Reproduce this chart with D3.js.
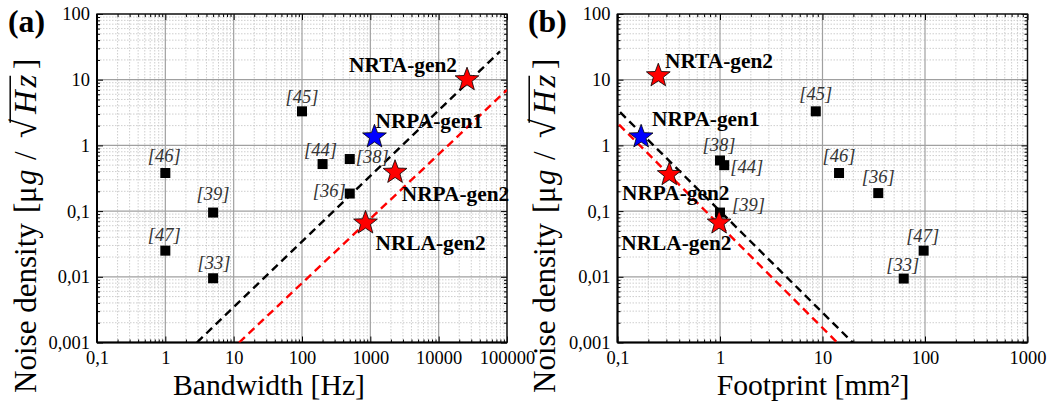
<!DOCTYPE html>
<html><head><meta charset="utf-8">
<script src="https://cdn.jsdelivr.net/npm/d3@7"></script>
<style>body{margin:0;background:#fff}</style>
</head><body><svg id="c" width="1051" height="412"></svg>
<script>
// ---------- DATA ----------
const refsA = ["[46]","[39]","[47]","[33]","[45]","[44]","[38]","[36]"];
const bandwidthA = [1, 5, 1, 5, 100, 200, 500, 500];
const noiseA = [0.38, 0.095, 0.025, 0.0095, 3.3, 0.52, 0.62, 0.185];

const starNames = ["NRTA-gen2","NRPA-gen1","NRPA-gen2","NRLA-gen2"];
const starKinds = ["red","blue","red","red"];
const starBandwidth = [26000, 1150, 2300, 850];
const starNoiseA = [10, 1.35, 0.39, 0.066];

const refsB = ["[38]","[44]","[39]","[45]","[46]","[36]","[47]","[33]"];
const footprintB = [1.0, 1.1, 1.0, 8.6, 14.5, 35, 97, 62];
const noiseB = [0.59, 0.50, 0.095, 3.3, 0.38, 0.188, 0.025, 0.0094];

const starFootprint = [0.25, 0.17, 0.32, 0.98];
const starNoiseB = [11.5, 1.35, 0.36, 0.066];

// trend lines (endpoints in data units)
const trendA_black_x = [2.9, 79000], trendA_black_y = [0.001, 27];
const trendA_red_x = [12, 100000], trendA_red_y = [0.001, 7.0];
const trendB_black_x = [0.106, 19.7], trendB_black_y = [3.2, 0.001];
const trendB_red_x = [0.1035, 13.9], trendB_red_y = [2.07, 0.001];

const xTicksA = [0.1, 1, 10, 100, 1000, 10000, 100000];
const xTickLabelsA = ["0,1","1","10","100","1000","10000","100000"];
const xTicksB = [0.1, 1, 10, 100, 1000];
const xTickLabelsB = ["0,1","1","10","100","1000"];
const yTicks = [0.001, 0.01, 0.1, 1, 10, 100];
const yTickLabels = ["0,001","0,01","0,1","1","10","100"];

// ---------- LAYOUT (label offsets relative to marker) ----------
const refOffA = [[-1,-11.5,"middle"],[0,-13,"middle"],[-1,-9.5,"middle"],[1,-9,"middle"],[0,-8.5,"middle"],[-2,-8,"middle"],[6,4,"start"],[-4,3.5,"end"]];
const starOffA = [[-10,-7.6,"end"],[1,-8.7,"start"],[6.7,28.3,"start"],[10,27.4,"start"]];
const refOffB = [[-1,-9,"middle"],[6,7.4,"start"],[12,-1.7,"start"],[0,-11.7,"middle"],[0,-11.3,"middle"],[0,-10,"middle"],[-1,-8.4,"middle"],[-1,-7.7,"middle"]];
const starOffB = [[6.7,-7.7,"start"],[11,-11.3,"start"],[-47.3,25,"start"],[12.4,26.6,"end"]];

const FONT = "Liberation Serif";
const svg = d3.select("#c");
svg.append("rect").attr("width",1051).attr("height",412).attr("fill","#fff");

function measure(str, size, style, weight) {
  const t = svg.append("text").attr("font-family",FONT).attr("font-size",size)
    .attr("font-style",style||"normal").attr("font-weight",weight||"normal").text(str);
  const w = t.node().getComputedTextLength();
  t.remove();
  return w;
}
// font-size so that `str` is `target` px wide
const fitSize = (str, target, style, weight) => 100 * target / measure(str, 100, style, weight);
const FS_TICK = fitSize("0,001", 41.5);
const FS_REF = fitSize("[45]", 33, "italic");
const FS_STAR = fitSize("NRTA-gen2", 108, "normal", "bold");
const FS_LETTER = fitSize("(a)", 37, "normal", "bold");
const FS_XT = fitSize("Bandwidth [Hz]", 192);
const FS_YT = fitSize("Noise density", 170);

const yRange = [342.5, 14];
const starColor = {red:"#ff0000", blue:"#0000ff"};

function starPath(R, r) {
  const pts = [];
  for (let i = 0; i < 10; i++) {
    const a = -Math.PI/2 + i*Math.PI/5;
    const rr = i % 2 ? r : R;
    pts.push([rr*Math.cos(a), rr*Math.sin(a)]);
  }
  return "M" + pts.map(p => p.join(",")).join("L") + "Z";
}

function minorsOf(dom) {
  const out = [];
  const lo = Math.round(Math.log10(dom[0])), hi = Math.round(Math.log10(dom[1]));
  for (let e = lo; e < hi; e++) for (let k = 2; k <= 9; k++) out.push(k*Math.pow(10,e));
  return out;
}

// y-title pieces: [text, offset along axis from bottom, italic, size factor, letter spacing]
const yTitlePieces = [
  ["Noise density", 0, false, 1, 0],
  ["[", 180, false, 1, 0],
  ["μ", 190, false, 1, 0],
  ["g", 208, true, 1, 0],
  ["/", 233, false, 1, 0],
  ["√", 255, false, 1.12, 0],
  ["Hz", 279, true, 1.05, 3],
  ["]", 324, false, 1, 0]
];

function panel(opt) {
  const x = d3.scaleLog().domain(opt.xDomain).range(opt.xRange);
  const y = d3.scaleLog().domain([0.001, 100]).range(yRange);
  const g = svg.append("g");
  const [x0, x1] = opt.xRange, [y0, y1] = yRange;
  const xMin = minorsOf(opt.xDomain), yMin = minorsOf([0.001,100]);

  // grid
  const grid = g.append("g");
  grid.selectAll(".mx").data(xMin).join("line")
    .attr("x1", d=>x(d)).attr("x2", d=>x(d)).attr("y1", y0).attr("y2", y1)
    .attr("stroke","#c8c8c8").attr("stroke-width",0.9).attr("stroke-dasharray","1.5,1.5");
  grid.selectAll(".my").data(yMin).join("line")
    .attr("y1", d=>y(d)).attr("y2", d=>y(d)).attr("x1", x0).attr("x2", x1)
    .attr("stroke","#c8c8c8").attr("stroke-width",0.9).attr("stroke-dasharray","1.5,1.5");
  grid.selectAll(".Mx").data(opt.xTicks).join("line")
    .attr("x1", d=>x(d)).attr("x2", d=>x(d)).attr("y1", y0).attr("y2", y1)
    .attr("stroke","#a0a0a0").attr("stroke-width",1.2);
  grid.selectAll(".My").data(yTicks).join("line")
    .attr("y1", d=>y(d)).attr("y2", d=>y(d)).attr("x1", x0).attr("x2", x1)
    .attr("stroke","#a0a0a0").attr("stroke-width",1.2);

  // axes
  const styleAxis = sel => {
    sel.attr("font-family",FONT).attr("font-size",FS_TICK);
    sel.select(".domain").remove();
    sel.selectAll("line").attr("stroke","#000").attr("stroke-width",1);
    sel.selectAll("text").attr("font-family",FONT).attr("font-size",FS_TICK).attr("fill","#000");
  };
  g.append("g").attr("transform",`translate(0,${y0})`)
    .call(d3.axisBottom(x).tickValues(opt.xTicks).tickSize(-6).tickPadding(8)
      .tickFormat((d,i)=>opt.xLabels[i])).call(styleAxis);
  g.append("g").attr("transform",`translate(0,${y0})`)
    .call(d3.axisBottom(x).tickValues(xMin).tickSize(-3).tickFormat("")).call(styleAxis);
  g.append("g").attr("transform",`translate(0,${y1})`)
    .call(d3.axisTop(x).tickValues(opt.xTicks).tickSize(-6).tickFormat("")).call(styleAxis);
  g.append("g").attr("transform",`translate(0,${y1})`)
    .call(d3.axisTop(x).tickValues(xMin).tickSize(-3).tickFormat("")).call(styleAxis);
  g.append("g").attr("transform",`translate(${x0},0)`)
    .call(d3.axisLeft(y).tickValues(yTicks).tickSize(-6).tickPadding(7)
      .tickFormat((d,i)=>yTickLabels[i])).call(styleAxis);
  g.append("g").attr("transform",`translate(${x0},0)`)
    .call(d3.axisLeft(y).tickValues(yMin).tickSize(-3).tickFormat("")).call(styleAxis);
  g.append("g").attr("transform",`translate(${x1},0)`)
    .call(d3.axisRight(y).tickValues(yTicks).tickSize(-6).tickFormat("")).call(styleAxis);
  g.append("g").attr("transform",`translate(${x1},0)`)
    .call(d3.axisRight(y).tickValues(yMin).tickSize(-3).tickFormat("")).call(styleAxis);

  // frame
  g.append("rect").attr("x",x0).attr("y",y1).attr("width",x1-x0).attr("height",y0-y1)
    .attr("fill","none").attr("stroke","#111").attr("stroke-width",1.4);
  g.append("line").attr("x1",x0).attr("x2",x1).attr("y1",y0).attr("y2",y0).attr("stroke","#000").attr("stroke-width",2);
  g.append("line").attr("x1",x0).attr("x2",x0).attr("y1",y0).attr("y2",y1).attr("stroke","#000").attr("stroke-width",2);

  // trend lines
  const clip = "clip" + opt.id;
  svg.append("clipPath").attr("id",clip).append("rect")
    .attr("x",x0).attr("y",y1).attr("width",x1-x0).attr("height",y0-y1);
  const lineGen = d3.line().x(d=>x(d[0])).y(d=>y(d[1]));
  opt.trends.forEach(t => {
    g.append("path").attr("clip-path",`url(#${clip})`)
      .attr("d", lineGen(t.xs.map((v,i)=>[v,t.ys[i]])))
      .attr("fill","none").attr("stroke",t.color).attr("stroke-width",2.4)
      .attr("stroke-dasharray","8,5");
  });

  // reference squares
  const refs = opt.refs.map((r,i)=>({r, x:opt.refX[i], y:opt.refY[i], off:opt.refOff[i]}));
  g.selectAll(".sq").data(refs).join("rect")
    .attr("x", d=>x(d.x)-5).attr("y", d=>y(d.y)-5).attr("width",10).attr("height",10).attr("fill","#000");

  // stars
  const stars = starNames.map((n,i)=>({n, k:starKinds[i], x:opt.starX[i], y:opt.starY[i], off:opt.starOff[i]}));
  g.selectAll(".st").data(stars).join("path")
    .attr("d", starPath(12.5, 5.2))
    .attr("transform", d=>`translate(${x(d.x)},${y(d.y)})`)
    .attr("fill", d=>starColor[d.k]).attr("stroke","#000").attr("stroke-width",0.8);

  // labels
  g.selectAll(".rl").data(refs).join("text")
    .attr("x", d=>x(d.x)+d.off[0]).attr("y", d=>y(d.y)+d.off[1])
    .attr("text-anchor", d=>d.off[2])
    .attr("font-family",FONT).attr("font-size",FS_REF).attr("font-style","italic").attr("fill","#333")
    .text(d=>d.r);
  g.selectAll(".sl").data(stars).join("text")
    .attr("x", d=>x(d.x)+d.off[0]).attr("y", d=>y(d.y)+d.off[1])
    .attr("text-anchor", d=>d.off[2])
    .attr("font-family",FONT).attr("font-size",FS_STAR).attr("font-weight","bold").attr("fill","#000")
    .text(d=>d.n);

  // panel letter
  svg.append("text").attr("x",opt.letterX).attr("y",32)
    .attr("font-family",FONT).attr("font-size",FS_LETTER).attr("font-weight","bold").text(opt.letter);

  // x title
  svg.append("text").attr("x",opt.xTitleX).attr("y",395).attr("text-anchor","middle")
    .attr("font-family",FONT).attr("font-size",FS_XT).text(opt.xTitle);

  // y title (rotated, built from pieces along the axis)
  const yt = svg.append("g").attr("transform",`translate(${opt.yTitleX},393) rotate(-90)`);
  yTitlePieces.forEach(p => {
    yt.append("text").attr("x",p[1]).attr("y",0)
      .attr("font-family",FONT).attr("font-size",FS_YT*p[3])
      .attr("font-style", p[2] ? "italic" : "normal")
      .attr("letter-spacing", p[4])
      .text(p[0]);
  });
  // overline of the square root over "Hz"
  const sq = yTitlePieces.find(p=>p[0]==="√"), hz = yTitlePieces.find(p=>p[0]==="Hz");
  const sqW = measure("√", FS_YT*sq[3]);
  const hzW = measure("Hz", FS_YT*hz[3], "italic") + hz[4];
  yt.append("line").attr("x1",sq[1]+sqW*0.8).attr("x2",hz[1]+hzW-1)
    .attr("y1",-FS_YT*0.83).attr("y2",-FS_YT*0.83).attr("stroke","#000").attr("stroke-width",1.5);
}

panel({
  id:"A", letter:"(a)", letterX:8, xDomain:[0.1,100000], xRange:[97,507],
  xTicks:xTicksA, xLabels:xTickLabelsA,
  refs:refsA, refX:bandwidthA, refY:noiseA, refOff:refOffA,
  starX:starBandwidth, starY:starNoiseA, starOff:starOffA,
  trends:[{xs:trendA_black_x, ys:trendA_black_y, color:"#000"},{xs:trendA_red_x, ys:trendA_red_y, color:"#ff0000"}],
  xTitleX:269, yTitleX:36, xTitle:"Bandwidth [Hz]"
});
panel({
  id:"B", letter:"(b)", letterX:528, xDomain:[0.1,1000], xRange:[617.5,1027.5],
  xTicks:xTicksB, xLabels:xTickLabelsB,
  refs:refsB, refX:footprintB, refY:noiseB, refOff:refOffB,
  starX:starFootprint, starY:starNoiseB, starOff:starOffB,
  trends:[{xs:trendB_black_x, ys:trendB_black_y, color:"#000"},{xs:trendB_red_x, ys:trendB_red_y, color:"#ff0000"}],
  xTitleX:813, yTitleX:555, xTitle:"Footprint [mm²]"
});
</script></body></html>
